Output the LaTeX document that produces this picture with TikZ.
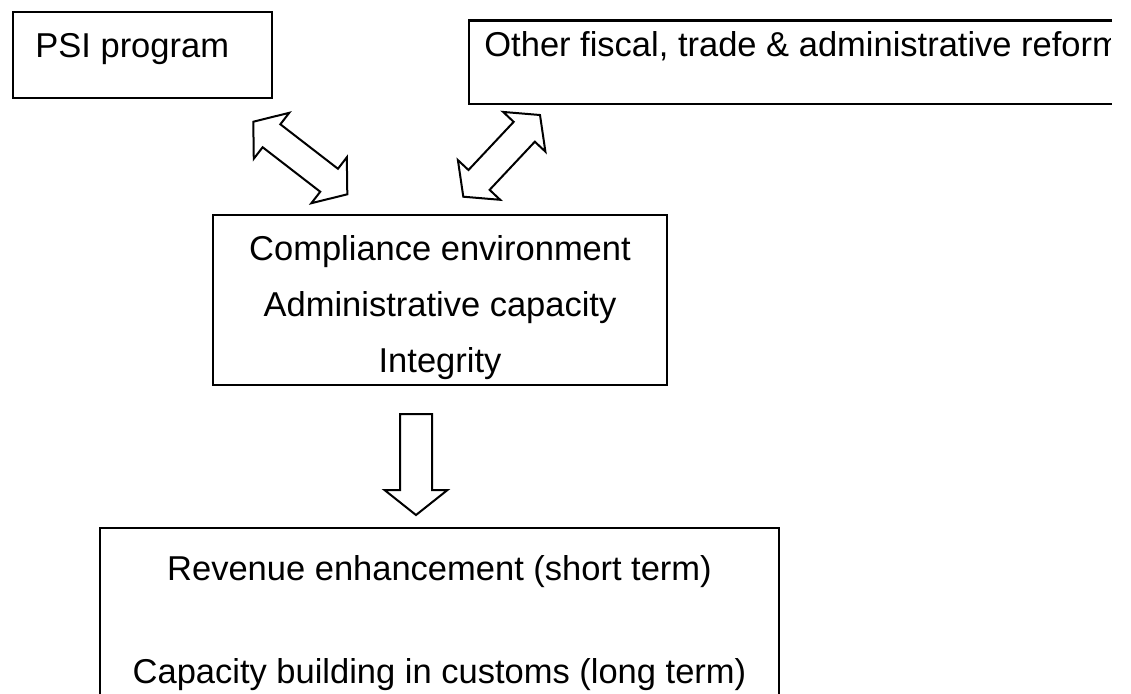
\documentclass[tikz,border=0pt]{standalone}
\usepackage{fontspec}
\setmainfont{Liberation Sans}
\usetikzlibrary{calc}

% Outline of a block arrow with a head at both ends.
% #1,#2: tips; #3: head length; #4: half width of the head; #5: half width of the shaft
\newcommand\dblblock[5]{%
  \draw[blockarrow] (#1)
    -- ($(#1)!#3!(#2)!#4!90:(#2)$)
    -- ($(#1)!#3!(#2)!#5!90:(#2)$)
    -- ($(#2)!#3!(#1)!#5!-90:(#1)$)
    -- ($(#2)!#3!(#1)!#4!-90:(#1)$)
    -- (#2)
    -- ($(#2)!#3!(#1)!#4!90:(#1)$)
    -- ($(#2)!#3!(#1)!#5!90:(#1)$)
    -- ($(#1)!#3!(#2)!#5!-90:(#2)$)
    -- ($(#1)!#3!(#2)!#4!-90:(#2)$)
    -- cycle;}

% Outline of a block arrow with a flat tail at #1 and a head at #2.
\newcommand\oneblock[5]{%
  \draw[blockarrow]
    ($(#1)!#5!90:(#2)$)
    -- ($(#2)!#3!(#1)!#5!-90:(#1)$)
    -- ($(#2)!#3!(#1)!#4!-90:(#1)$)
    -- (#2)
    -- ($(#2)!#3!(#1)!#4!90:(#1)$)
    -- ($(#2)!#3!(#1)!#5!90:(#1)$)
    -- ($(#1)!#5!-90:(#2)$)
    -- cycle;}

\begin{document}
\begin{tikzpicture}[x=0.5pt,y=-0.5pt,
    frame/.style={draw=black,line width=1.1pt},
    boxnode/.style={frame,rectangle,inner sep=0pt,outer sep=0pt},
    blockarrow/.style={draw=black,line width=1pt,line join=miter,fill=white},
    txt/.style={inner sep=0pt,font=\fontsize{17.25pt}{20pt}\selectfont},
    txtl/.style={txt,anchor=base west},
    txtc/.style={txt,anchor=base}]

  \useasboundingbox (0,0) rectangle (1131,693);
  \clip (0,0) rectangle (1131,693);
  \fill[white] (0,0) rectangle (1131,693);

  % top left box
  \node[boxnode,minimum width=129.5pt,minimum height=43pt] (psi) at (142.5,55) {};
  \node[txtl] (psitext) at (35,57) {PSI program};

  % top right box, open on its right side
  \coordinate (oth-ne) at (1112,20.5);
  \coordinate (oth-nw) at (469,20.5);
  \coordinate (oth-sw) at (469,104);
  \coordinate (oth-se) at (1112,104);
  \draw[frame] (oth-ne) -- (oth-nw) -- (oth-sw) -- (oth-se);
  \begin{scope}
    \clip (469,0) rectangle (1110,130);
    \node[txtl] (othtext) at (484,56) {Other fiscal, trade \& administrative reform};
  \end{scope}

  % middle box
  \node[boxnode,minimum width=227pt,minimum height=85pt] (mid) at (440,300) {};
  \node[txtc] (mid1) at (440,260) {Compliance environment};
  \node[txtc] (mid2) at (440,316) {Administrative capacity};
  \node[txtc] (mid3) at (440,372) {Integrity};

  % bottom box, running past the lower edge
  \node[boxnode,minimum width=339.5pt,minimum height=96pt] (res) at (439.5,624) {};
  \node[txtc] (res1) at (439.5,580) {Revenue enhancement (short term)};
  \node[txtc] (res2) at (439.5,683) {Capacity building in customs (long term)};

  % two-way arrows between the upper boxes and the middle box
  \coordinate (a1) at (253.3,121.7);
  \coordinate (b1) at (347.3,194.3);
  \dblblock{a1}{b1}{11.5pt}{14.5pt}{7.25pt}

  \coordinate (a2) at (540,115);
  \coordinate (b2) at (463.3,196.7);
  \dblblock{a2}{b2}{11.5pt}{14.5pt}{7.25pt}

  % arrow from the middle box down to the bottom box
  \coordinate (dtop) at (416,414);
  \coordinate (dtip) at (416,515);
  \oneblock{dtop}{dtip}{12.5pt}{15.75pt}{8pt}
\end{tikzpicture}
\end{document}
